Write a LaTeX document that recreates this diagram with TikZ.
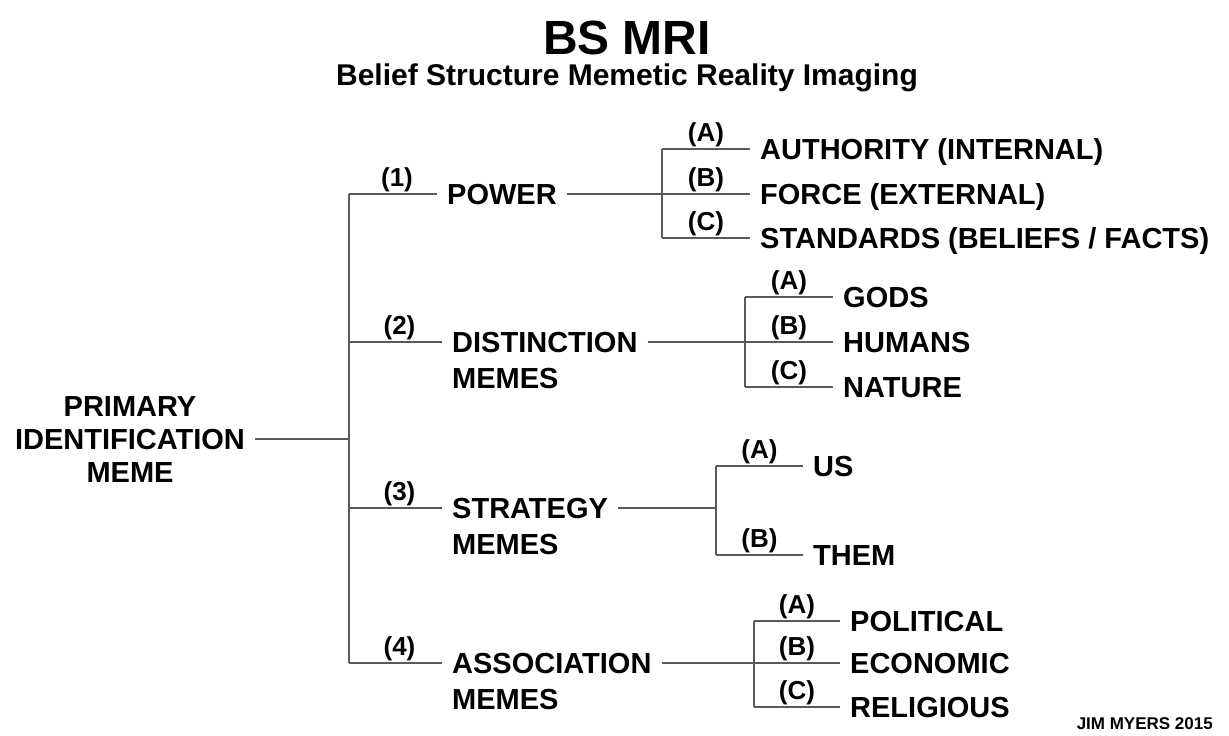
\documentclass[tikz,border=0pt]{standalone}
\usepackage{fontspec}
\setmainfont{Liberation Sans}
\definecolor{linegray}{HTML}{5A5A5A}
\begin{document}
\begin{tikzpicture}[x=1pt,y=-1pt,
  conn/.style={draw=linegray, line width=2.5pt},
  txt/.style={font=\fontsize{29}{33}\selectfont\bfseries, anchor=west, inner xsep=10pt, inner ysep=0pt, text height=21pt, text depth=0pt},
  lab/.style={font=\fontsize{26}{28}\selectfont\bfseries, inner sep=0pt, midway, above=0.5pt}]
\useasboundingbox[fill=white] (0,0) rectangle (1229,736);
% titles
\node[font=\fontsize{48}{52}\selectfont\bfseries, inner sep=0pt] (title) at (627,38) {BS MRI};
\node[font=\fontsize{30}{34}\selectfont\bfseries, inner sep=0pt] (subtitle) at (627,78) {Belief Structure Memetic Reality Imaging};
\node[font=\fontsize{17}{19}\selectfont\bfseries, inner sep=0pt, anchor=east] (credit) at (1213,724) {JIM MYERS 2015};
% root
\node[txt, anchor=center] (rootA) at (130,406) {PRIMARY};
\node[txt, anchor=center] (root) at (130,439) {IDENTIFICATION};
\node[txt, anchor=center] (rootC) at (130,472) {MEME};
% trunk coordinates
\coordinate (t0) at (349,439);
\coordinate (t1) at (349,194);
\coordinate (t2) at (349,342);
\coordinate (t3) at (349,508);
\coordinate (t4) at (349,663);
% level 1 nodes
\node[txt] (power) at (437,194) {POWER};
\node[txt] (dist) at (442,342) {DISTINCTION};
\node[txt] (distm) at (442,378) {MEMES};
\node[txt] (strat) at (442,508) {STRATEGY};
\node[txt] (stratm) at (442,544) {MEMES};
\node[txt] (assoc) at (442,663) {ASSOCIATION};
\node[txt] (assocm) at (442,699) {MEMES};
% trunk
\draw[conn] (root.east) -- (t0);
\draw[conn] (t1) -- (t4);
\draw[conn] (t1) -- node[lab, xshift=4pt]{(1)} (power.west);
\draw[conn] (t2) -- node[lab, xshift=4pt]{(2)} (dist.west);
\draw[conn] (t3) -- node[lab, xshift=4pt]{(3)} (strat.west);
\draw[conn] (t4) -- node[lab, xshift=4pt]{(4)} (assoc.west);
% POWER subtree
\coordinate (j1) at (662,194);
\coordinate (j1a) at (662,149);
\coordinate (j1c) at (662,238);
\node[txt] (auth) at (750,149) {AUTHORITY (INTERNAL)};
\node[txt] (force) at (750,194) {FORCE (EXTERNAL)};
\node[txt] (stand) at (750,238) {STANDARDS (BELIEFS / FACTS)};
\draw[conn] (power.east) -- (j1);
\draw[conn] (j1a) -- (j1c);
\draw[conn] (j1a) -- node[lab]{(A)} (auth.west);
\draw[conn] (j1) -- node[lab]{(B)} (force.west);
\draw[conn] (j1c) -- node[lab]{(C)} (stand.west);
% DISTINCTION subtree
\coordinate (j2) at (745,342);
\coordinate (j2a) at (745,297);
\coordinate (j2c) at (745,387);
\node[txt] (gods) at (833,297) {GODS};
\node[txt] (humans) at (833,342) {HUMANS};
\node[txt] (nature) at (833,387) {NATURE};
\draw[conn] (dist.east) -- (j2);
\draw[conn] (j2a) -- (j2c);
\draw[conn] (j2a) -- node[lab]{(A)} (gods.west);
\draw[conn] (j2) -- node[lab]{(B)} (humans.west);
\draw[conn] (j2c) -- node[lab]{(C)} (nature.west);
% STRATEGY subtree
\coordinate (j3) at (716,508);
\coordinate (j3a) at (716,466);
\coordinate (j3b) at (716,555);
\node[txt] (us) at (803,466) {US};
\node[txt] (them) at (803,555) {THEM};
\draw[conn] (strat.east) -- (j3);
\draw[conn] (j3a) -- (j3b);
\draw[conn] (j3a) -- node[lab]{(A)} (us.west);
\draw[conn] (j3b) -- node[lab]{(B)} (them.west);
% ASSOCIATION subtree
\coordinate (j4) at (754,663);
\coordinate (j4a) at (754,621);
\coordinate (j4c) at (754,707);
\node[txt] (polit) at (840,621) {POLITICAL};
\node[txt] (econ) at (840,663) {ECONOMIC};
\node[txt] (relig) at (840,707) {RELIGIOUS};
\draw[conn] (assoc.east) -- (j4);
\draw[conn] (j4a) -- (j4c);
\draw[conn] (j4a) -- node[lab]{(A)} (polit.west);
\draw[conn] (j4) -- node[lab]{(B)} (econ.west);
\draw[conn] (j4c) -- node[lab]{(C)} (relig.west);
\end{tikzpicture}
\end{document}
